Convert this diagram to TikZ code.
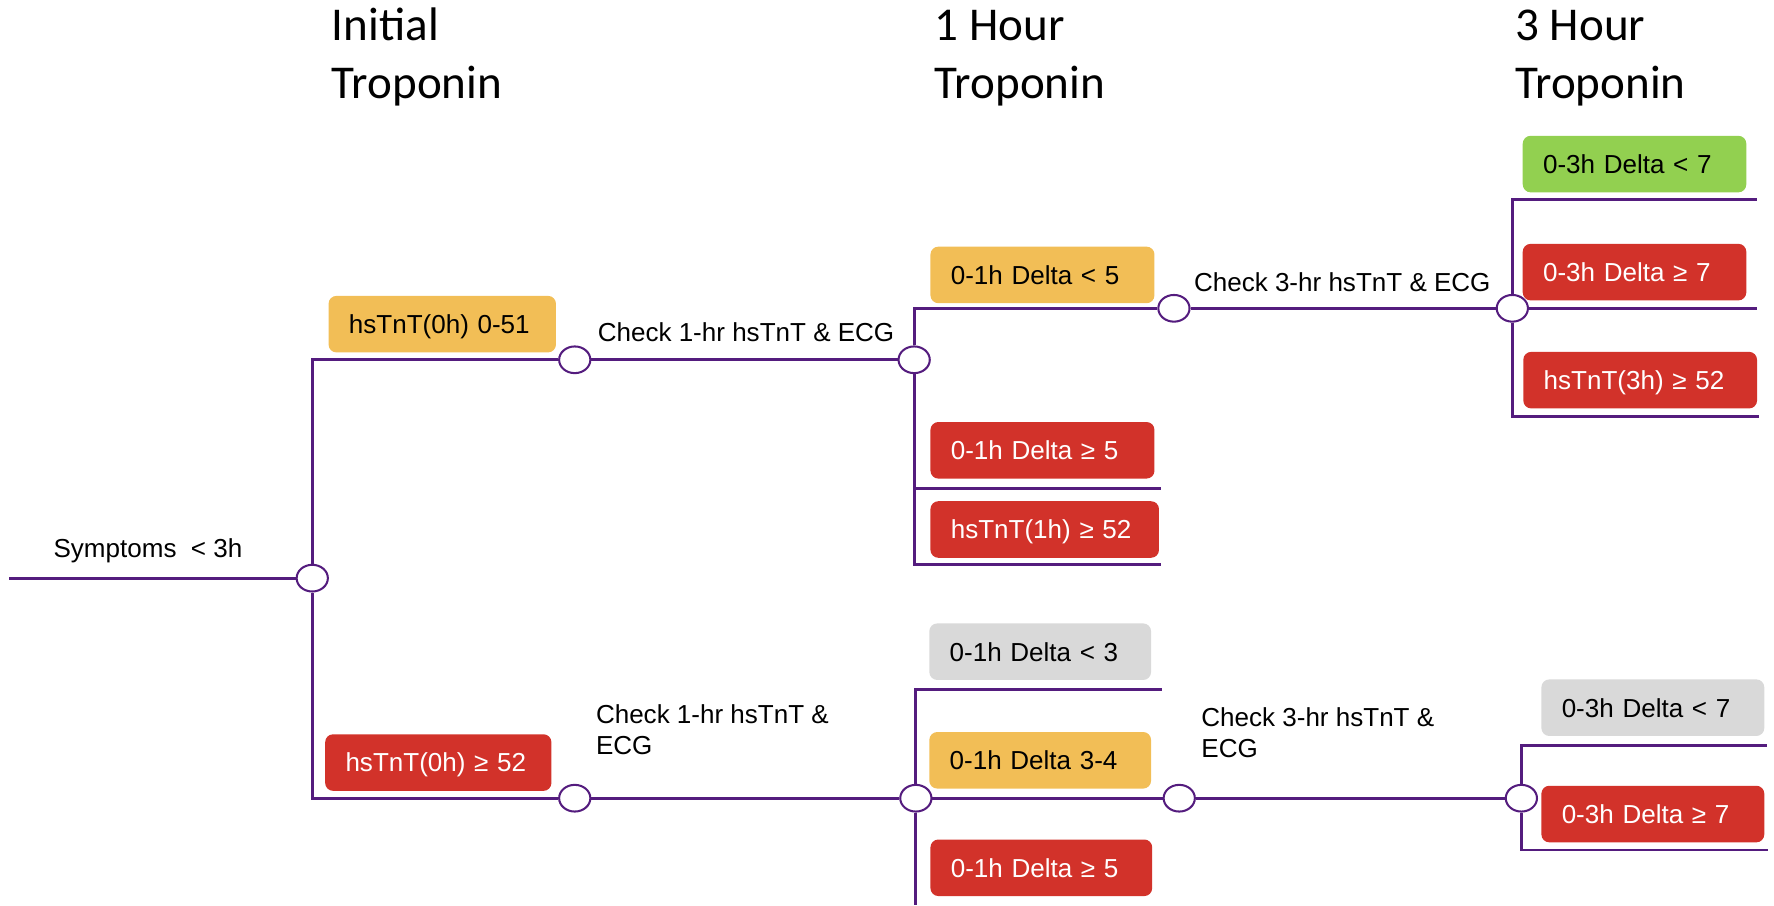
\documentclass[tikz,border=0pt]{standalone}
\usepackage{fontspec}
\setmainfont{Liberation Sans}
\newfontfamily\headfont{Carlito}
\usepackage{xcolor}
\usepackage{tikz}
\usetikzlibrary{shapes.geometric}

\definecolor{tpurple}{RGB}{84,28,126}
\definecolor{tred}{RGB}{210,50,42}
\definecolor{torange}{RGB}{242,190,86}
\definecolor{tgreen}{RGB}{146,208,80}
\definecolor{tgrey}{RGB}{217,217,217}

\begin{document}
\begin{tikzpicture}[x=0.5pt, y=-0.5pt, font=\fontsize{11.5}{13.7}\selectfont,
    junc/.style = {draw=tpurple, fill=white, ellipse, line width=0.9pt, minimum width=13.8pt, minimum height=11.8pt, inner sep=0pt},
    res/.style = {rectangle, rounded corners=3.5pt, anchor=west, minimum height=25pt, inner xsep=9pt, inner ysep=0pt,
                  text width=#1, align=left, text height=8.3pt, text depth=0pt},
    res/.default = 81pt,
    okbox/.style = {res=#1, fill=tgreen},   okbox/.default = 81pt,
    midbox/.style = {res=#1, fill=torange}, midbox/.default = 81pt,
    greybox/.style = {res=#1, fill=tgrey},  greybox/.default = 81pt,
    highbox/.style = {res=#1, fill=tred, text=white}, highbox/.default = 81pt,
    link/.style = {draw=tpurple, line width=1.3pt},
    head/.style = {anchor=base west, align=left, inner sep=0pt, font=\headfont\fontsize{20.8}{25.4}\selectfont},
    note/.style = {anchor=base west, align=left, inner sep=0pt}]
    \useasboundingbox (0,0) rectangle (1568,800);

    % column headings
    \node[head] (h0) at (293,87)  {Initial\\Troponin};
    \node[head] (h1) at (826,87)  {1 Hour\\Troponin};
    \node[head] (h3) at (1339,87) {3 Hour\\Troponin};

    % junctions
    \node[junc] (1) at (276,511)      {};
    \node[junc] (2) at (508,318)      {};
    \node[junc] (3) at (808,318)      {};
    \node[junc] (4) at (1037.6,272.5) {};
    \node[junc] (5) at (1336.7,272.5) {};
    \node[junc] (6) at (508,705.5)    {};
    \node[junc] (7) at (809.5,705.5)  {};
    \node[junc] (8) at (1042.3,705.5) {};
    \node[junc] (9) at (1344.7,705.5) {};

    % loose ends
    \coordinate (s)  at (8,511);
    \coordinate (e1) at (1026,431.6);
    \coordinate (e2) at (1026,498.8);
    \coordinate (e3) at (1553,176.2);
    \coordinate (e4) at (1553,272.5);
    \coordinate (e5) at (1555,368.3);
    \coordinate (e6) at (1027,609.3);
    \coordinate (e7) at (809.5,800);
    \coordinate (e8) at (1562,658.5);
    \coordinate (e9) at (1563,751.3);

    % result boxes
    \node[midbox=82.5pt]  (a) at (290,286.5)    {hsTnT(0h) 0-51};
    \node[highbox=82pt]   (b) at (287,674)      {hsTnT(0h) ≥ 52};
    \node[midbox]         (c) at (822,243)      {0-1h Delta < 5};
    \node[highbox]        (d) at (822,398)      {0-1h Delta ≥ 5};
    \node[highbox=83pt]   (e) at (822,468)      {hsTnT(1h) ≥ 52};
    \node[greybox=80pt]   (f) at (821,576)      {0-1h Delta < 3};
    \node[midbox=80pt]    (g) at (821,672)      {0-1h Delta 3-4};
    \node[highbox=80pt]   (k) at (822,767)      {0-1h Delta ≥ 5};
    \node[okbox=80.8pt]   (m) at (1345.5,145)   {0-3h Delta < 7};
    \node[highbox=80.8pt] (n) at (1345.5,240.5) {0-3h Delta ≥ 7};
    \node[highbox=85.3pt] (p) at (1346,336)     {hsTnT(3h) ≥ 52};
    \node[greybox=80.5pt] (q) at (1362,625.5)   {0-3h Delta < 7};
    \node[highbox=80.5pt] (r) at (1362,719.5)   {0-3h Delta ≥ 7};

    % labels on the branches
    \node[note] (t0) at (47,493)        {Symptoms\ \ < 3h};
    \node[note] (t1) at (528,302)       {Check 1-hr hsTnT \& ECG};
    \node[note] (t2) at (1055,258)      {Check 3-hr hsTnT \& ECG};
    \node[note] (t3) at (526.4,667.3)   {Check 1-hr hsTnT \&\\ECG};
    \node[note] (t4) at (1061.5,669.7)  {Check 3-hr hsTnT \&\\ECG};

    \draw[link] (s) -- (1);
    \draw[link] (1) |- (2);
    \draw[link] (1) |- (6);

    \draw[link] (2) -- (3);
    \draw[link] (3) |- (4);
    \draw[link] (3) |- (e1);
    \draw[link] (3) |- (e2);
    \draw[link] (4) -- (5);
    \draw[link] (5) |- (e3);
    \draw[link] (5) -- (e4);
    \draw[link] (5) |- (e5);

    \draw[link] (6) -- (7);
    \draw[link] (7) |- (e6);
    \draw[link] (7) -- (e7);
    \draw[link] (7) -- (8);
    \draw[link] (8) -- (9);
    \draw[link] (9) |- (e8);
    \draw[link] (9) |- (e9);
\end{tikzpicture}
\end{document}
